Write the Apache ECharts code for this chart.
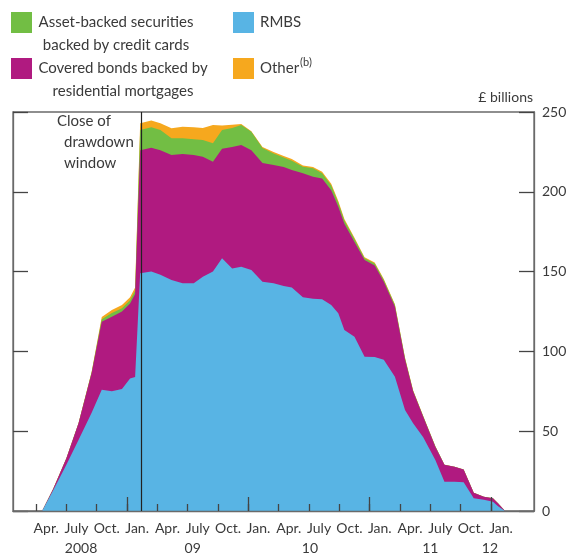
<!DOCTYPE html>
<html>
<head>
<meta charset="utf-8">
<script src="https://cdn.jsdelivr.net/npm/echarts@6/dist/echarts.min.js"></script>
<style>
  html, body { margin: 0; padding: 0; background: #fff; }
  #chart { width: 571px; height: 559px; }
</style>
</head>
<body>
<div id="chart"></div>
<script>
// x values are months since 1 Jan 2008
const months = [3.6, 4.7, 6.0, 7.2, 8.5, 9.5, 10.5, 11.5, 12.3, 12.8, 13.3, 14.4, 15.3, 16.4, 17.5, 18.6, 19.5, 20.5, 21.4, 22.4, 23.3, 24.3, 25.4, 26.5, 27.5, 28.3, 29.4, 30.4, 31.3, 32.2, 32.9, 33.5, 34.5, 35.5, 36.5, 37.4, 38.5, 39.5, 40.3, 41.3, 42.5, 43.4, 44.4, 45.3, 46.3, 47.3, 48.2, 48.7, 49.4];
const rmbs = [0, 13, 29, 44.5, 61.5, 76, 75, 76.5, 83, 84, 149, 150, 148, 144.7, 142.7, 142.7, 146.8, 150, 158.3, 152, 153, 151, 143.7, 142.7, 141, 140, 134, 133, 132.6, 129, 123.9, 113.4, 109.2, 96.7, 96.5, 94.8, 84.1, 63.3, 55, 46.2, 32, 18.4, 18.4, 18, 8, 7, 5.8, 3, 0];
const coveredBonds = [0, 1, 4, 10.5, 25, 42.6, 46.7, 48.5, 47, 52, 77, 77.6, 78, 78.3, 81, 80.3, 75.2, 68.9, 68.7, 76, 76.3, 75, 74.3, 74.1, 74.5, 73.7, 77.6, 76.5, 75.8, 72, 66.7, 66.6, 59.3, 60.6, 57.3, 48.9, 43.9, 31.7, 20, 12.8, 8.3, 10.6, 9.4, 8, 3.5, 2, 2.2, 1.8, 0];
const absCards = [0, 0, 0, 0, 0.5, 1.5, 2.3, 2, 2, 2, 12.7, 12.8, 12.7, 10.5, 9.8, 10, 10.5, 11.5, 11.7, 12, 12.6, 11.7, 9.5, 7.2, 6, 5.8, 4.1, 5.2, 3.2, 3, 2.6, 2, 2, 1, 1.2, 1, 1, 0.7, 0.4, 0.3, 0.2, 0, 0, 0, 0, 0, 0, 0, 0];
const other = [0, 0, 0, 0, 0.3, 1.5, 2, 2, 2, 2, 4.3, 4.2, 4.3, 6.3, 7.3, 7.5, 7.5, 11.5, 2.8, 2, 0.6, 0.2, 0.5, 1, 1, 1, 0.8, 0.8, 0.9, 1, 1, 1, 0.7, 0.7, 0.7, 0.6, 0.5, 0.3, 0.3, 0.2, 0, 0, 0, 0, 0, 0, 0, 0, 0];

const quarterTicks = [3, 6, 9, 12, 15, 18, 21, 24, 27, 30, 33, 36, 39, 42, 45, 48];
const quarterLabels = ['Apr.', 'July', 'Oct.', 'Jan.', 'Apr.', 'July', 'Oct.', 'Jan.', 'Apr.', 'July', 'Oct.', 'Jan.', 'Apr.', 'July', 'Oct.', 'Jan.'];
const yearTicks = [12, 24, 36, 48];
const yearLabels = ['2008', '09', '10', '11', '12'];
const yearLabelAt = [7.45, 18.5, 30.1, 42, 47.9];
const drawdownClose = 13.45;

const textColor = '#3a3a3a';
const font = 'Lato, "Noto Sans", sans-serif';

const chart = echarts.init(document.getElementById('chart'));

const labelAt = quarterTicks.map((t) => t + 1.0);

// the areas are layered: each series is drawn as the running total of itself and the ones below
const layers = [rmbs, coveredBonds, absCards, other];
function cumulative(upTo) {
  return months.map((m, i) => {
    let sum = 0;
    for (let k = 0; k <= upTo; k++) sum += layers[k][i];
    return [m, Math.round(sum * 10) / 10];
  });
}

function findIndex(list, v) {
  for (let i = 0; i < list.length; i++) {
    if (Math.abs(list[i] - v) < 0.01) return i;
  }
  return -1;
}

function areaSeries(name, level, color, z) {
  return {
    name: name,
    type: 'line',
    data: cumulative(level),
    showSymbol: false,
    symbol: 'none',
    lineStyle: { width: 0 },
    areaStyle: { color: color, opacity: 1 },
    itemStyle: { color: color },
    z: z,
    silent: true,
  };
}

const xMin = 0.72;
const xMax = 52.26;

const option = {
  animation: false,
  grid: {
    left: 13,
    right: 37,
    top: 112,
    bottom: 48,
    show: true,
    borderColor: '#6a6a6a',
    borderWidth: 1.3,
  },
  xAxis: [
    {
      type: 'value',
      min: xMin,
      max: xMax,
      position: 'bottom',
      axisLine: { show: true, lineStyle: { color: '#6a6a6a', width: 1.3 } },
      axisTick: {
        show: true,
        inside: true,
        length: 7,
        customValues: quarterTicks,
        lineStyle: { color: '#444', width: 1.3 },
      },
      axisLabel: {
        customValues: labelAt,
        margin: 10,
        color: textColor,
        fontFamily: font,
        fontSize: 14,
        formatter: (v) => {
          const i = findIndex(labelAt, v);
          return i >= 0 ? quarterLabels[i] : '';
        },
      },
      splitLine: { show: false },
      z: 5,
    },
    {
      type: 'value',
      min: xMin,
      max: xMax,
      position: 'bottom',
      axisLine: { show: false },
      axisTick: {
        show: true,
        inside: true,
        length: 14,
        customValues: yearTicks,
        lineStyle: { color: '#444', width: 1.3 },
      },
      axisLabel: {
        customValues: yearLabelAt,
        margin: 30,
        color: textColor,
        fontFamily: font,
        fontSize: 14,
        formatter: (v) => {
          const i = findIndex(yearLabelAt, v);
          return i >= 0 ? yearLabels[i] : '';
        },
      },
      splitLine: { show: false },
      z: 5,
    },
  ],
  yAxis: [
    {
      type: 'value',
      position: 'right',
      min: 0,
      max: 250,
      interval: 50,
      axisLine: { show: true, lineStyle: { color: '#6a6a6a', width: 1.3 } },
      axisTick: { show: true, inside: true, length: 15, lineStyle: { color: '#444', width: 1.3 } },
      axisLabel: { margin: 8, color: textColor, fontFamily: font, fontSize: 14 },
      splitLine: { show: false },
    },
    {
      type: 'value',
      position: 'left',
      min: 0,
      max: 250,
      interval: 50,
      axisLine: { show: true, lineStyle: { color: '#6a6a6a', width: 1.3 } },
      axisTick: { show: true, inside: true, length: 15, lineStyle: { color: '#444', width: 1.3 } },
      axisLabel: { show: false },
      splitLine: { show: false },
    },
  ],
  series: [
    Object.assign(areaSeries('Other', 3, '#f6a81e', 2), {
      markLine: {
        silent: true,
        symbol: 'none',
        label: { show: false },
        lineStyle: { color: '#222', type: 'solid', width: 1.2 },
        z: 10,
        data: [{ xAxis: drawdownClose }],
      },
    }),
    areaSeries('Asset-backed securities backed by credit cards', 2, '#72be44', 3),
    areaSeries('Covered bonds backed by residential mortgages', 1, '#b01a80', 4),
    areaSeries('RMBS', 0, '#58b4e4', 5),
  ],
  graphic: [
    { type: 'rect', shape: { x: 11, y: 12, width: 21, height: 21 }, style: { fill: '#72be44' } },
    { type: 'text', x: 116, y: 11, style: { text: 'Asset-backed securities\nbacked by credit cards', align: 'center', font: '15px ' + font, lineHeight: 23, fill: textColor } },
    { type: 'rect', shape: { x: 11, y: 58, width: 21, height: 21 }, style: { fill: '#b01a80' } },
    { type: 'text', x: 123, y: 57, style: { text: 'Covered bonds backed by\nresidential mortgages', align: 'center', font: '15px ' + font, lineHeight: 23, fill: textColor } },
    { type: 'rect', shape: { x: 233, y: 12, width: 21, height: 21 }, style: { fill: '#58b4e4' } },
    { type: 'text', x: 260, y: 11, style: { text: 'RMBS', font: '15px ' + font, lineHeight: 23, fill: textColor } },
    { type: 'rect', shape: { x: 233, y: 58, width: 21, height: 21 }, style: { fill: '#f6a81e' } },
    {
      type: 'text',
      x: 260,
      y: 57,
      style: {
        text: '{a|Other}{b|(b)}',
        rich: {
          a: { font: '15px ' + font, fill: textColor, lineHeight: 23 },
          b: { font: '11px ' + font, fill: textColor, verticalAlign: 'top', padding: [0, 0, 8, 1] },
        },
      },
    },
    { type: 'text', right: 38, y: 90, style: { text: '£ billions', font: '14px ' + font, fill: textColor } },
    { type: 'text', x: 57, y: 114, style: { text: 'Close of', font: '15px ' + font, fill: textColor } },
    { type: 'text', x: 64, y: 135, style: { text: 'drawdown', font: '15px ' + font, fill: textColor } },
    { type: 'text', x: 64, y: 156, style: { text: 'window', font: '15px ' + font, fill: textColor } },
  ],
};

chart.setOption(option);
</script>
</body>
</html>
